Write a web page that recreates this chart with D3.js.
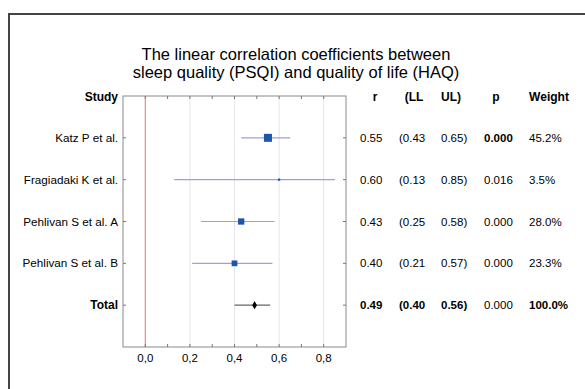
<!DOCTYPE html>
<html>
<head>
<meta charset="utf-8">
<script src="https://cdn.jsdelivr.net/npm/d3@7"></script>
<style>
  body { margin: 0; background: #fff; }
  svg text { font-family: "Liberation Sans", Arial, sans-serif; fill: #000; }
</style>
</head>
<body>
<div id="chart"></div>
<script>
// study rows
const studies = ["Katz P et al.", "Fragiadaki K et al.", "Pehlivan S et al. A", "Pehlivan S et al. B", "Total"];
const rValues = [0.55, 0.60, 0.43, 0.40, 0.49];
const lowerLimits = [0.43, 0.13, 0.25, 0.21, 0.40];
const upperLimits = [0.65, 0.85, 0.58, 0.57, 0.56];
const pValues = ["0.000", "0.016", "0.000", "0.000", "0.000"];
const weights = [45.2, 3.5, 28.0, 23.3, 100.0];
const xTicks = [0, 0.2, 0.4, 0.6, 0.8];

const width = 585, height = 389;

const svg = d3.select("#chart")
    .append("svg")
    .attr("width", width)
    .attr("height", height);

// outer frame (only top and left visible)
svg.append("line").attr("x1", 8).attr("x2", width).attr("y1", 14).attr("y2", 14)
    .attr("stroke", "#444").attr("stroke-width", 2);
svg.append("line").attr("x1", 9).attr("x2", 9).attr("y1", 13).attr("y2", height)
    .attr("stroke", "#444").attr("stroke-width", 2);

// title
svg.append("text")
    .attr("x", 296).attr("y", 60)
    .attr("text-anchor", "middle")
    .style("font-size", "16.5px")
    .text("The linear correlation coefficients between");
svg.append("text")
    .attr("x", 296).attr("y", 78)
    .attr("text-anchor", "middle")
    .style("font-size", "16.5px")
    .text("sleep quality (PSQI) and quality of life (HAQ)");

const x = d3.scaleLinear().domain([-0.1, 0.9]).range([123, 346]);
const y = d3.scaleLinear().domain([0, 6]).range([96, 347]);
const size = d3.scaleSqrt().domain([0, 45.2]).range([0, 8]);

// gridlines
svg.selectAll(".grid")
    .data(xTicks.filter(d => d > 0))
    .enter()
    .append("line")
    .attr("x1", d => x(d)).attr("x2", d => x(d))
    .attr("y1", y(0)).attr("y2", y(6))
    .attr("stroke", "#e6e6e6");

// zero line
svg.append("line")
    .attr("x1", x(0)).attr("x2", x(0))
    .attr("y1", y(0)).attr("y2", y(6))
    .attr("stroke", "#f08a8a").attr("stroke-width", 1.2);

// plot box
svg.append("rect")
    .attr("x", x(-0.1)).attr("y", y(0))
    .attr("width", x(0.9) - x(-0.1)).attr("height", y(6) - y(0))
    .attr("fill", "none").attr("stroke", "#8a8a8a");

// minor ticks top and bottom
const minor = d3.range(0, 9).map(i => i / 10);
svg.selectAll(".tickTop")
    .data(minor)
    .enter()
    .append("line")
    .attr("x1", d => x(d)).attr("x2", d => x(d))
    .attr("y1", y(0)).attr("y2", y(0) + 3)
    .attr("stroke", "#777");
svg.selectAll(".tickBottom")
    .data(minor)
    .enter()
    .append("line")
    .attr("x1", d => x(d)).attr("x2", d => x(d))
    .attr("y1", y(6)).attr("y2", y(6) - 3)
    .attr("stroke", "#777");

// row ticks left and right
svg.selectAll(".tickLeft")
    .data(studies)
    .enter()
    .append("line")
    .attr("x1", x(-0.1)).attr("x2", x(-0.1) + 3)
    .attr("y1", (d, i) => y(i + 1)).attr("y2", (d, i) => y(i + 1))
    .attr("stroke", "#777");
svg.selectAll(".tickRight")
    .data(studies)
    .enter()
    .append("line")
    .attr("x1", x(0.9)).attr("x2", x(0.9) - 3)
    .attr("y1", (d, i) => y(i + 1)).attr("y2", (d, i) => y(i + 1))
    .attr("stroke", "#777");

// x tick labels
svg.selectAll(".xlabel")
    .data(xTicks)
    .enter()
    .append("text")
    .attr("x", d => x(d)).attr("y", 362)
    .attr("text-anchor", "middle")
    .style("font-size", "11.5px")
    .text(d => d3.format(".1f")(d).replace(".", ","));

// confidence intervals
svg.selectAll(".ci")
    .data(studies)
    .enter()
    .append("line")
    .attr("x1", (d, i) => x(lowerLimits[i]))
    .attr("x2", (d, i) => x(upperLimits[i]))
    .attr("y1", (d, i) => y(i + 1)).attr("y2", (d, i) => y(i + 1))
    .attr("stroke", (d, i) => i === 4 ? "#666" : "#9aa2de")
    .attr("stroke-width", 1.2);

// study squares
svg.selectAll(".box")
    .data(studies.slice(0, 4))
    .enter()
    .append("rect")
    .attr("x", (d, i) => x(rValues[i]) - size(weights[i]) / 2)
    .attr("y", (d, i) => y(i + 1) - size(weights[i]) / 2)
    .attr("width", (d, i) => size(weights[i]))
    .attr("height", (d, i) => size(weights[i]))
    .attr("fill", "#1f55a8");

// pooled estimate
svg.append("path")
    .attr("d", d3.symbol().type(d3.symbolDiamond).size(20))
    .attr("transform", `translate(${x(rValues[4])},${y(5)})`)
    .attr("fill", "#000");

// study labels
svg.append("text")
    .attr("x", 118).attr("y", 101)
    .attr("text-anchor", "end")
    .style("font-size", "12px").style("font-weight", "bold")
    .text("Study");
svg.selectAll(".study")
    .data(studies)
    .enter()
    .append("text")
    .attr("x", 118).attr("y", (d, i) => y(i + 1) + 4)
    .attr("text-anchor", "end")
    .style("font-size", (d, i) => i === 4 ? "12px" : "11.7px")
    .style("font-weight", (d, i) => i === 4 ? "bold" : "normal")
    .text(d => d);

// table columns
const headers = [
    { text: "r", x: 375 },
    { text: "(LL", x: 414 },
    { text: "UL)", x: 451 },
    { text: "p", x: 496 },
    { text: "Weight", x: 549 }
];
svg.selectAll(".header")
    .data(headers)
    .enter()
    .append("text")
    .attr("x", d => d.x).attr("y", 101)
    .attr("text-anchor", "middle")
    .style("font-size", "12px").style("font-weight", "bold")
    .text(d => d.text);

const fmt = d3.format(".2f");
const columns = [
    { x: 360, text: i => fmt(rValues[i]), bold: i => i === 4 },
    { x: 399, text: i => "(" + fmt(lowerLimits[i]), bold: i => i === 4 },
    { x: 441, text: i => fmt(upperLimits[i]) + ")", bold: i => i === 4 },
    { x: 484, text: i => pValues[i], bold: i => i === 0 },
    { x: 529, text: i => weights[i].toFixed(1) + "%", bold: i => i === 4 }
];
columns.forEach(col => {
    svg.selectAll(null)
        .data(studies)
        .enter()
        .append("text")
        .attr("x", col.x).attr("y", (d, i) => y(i + 1) + 4)
        .style("font-size", "11.5px")
        .style("font-weight", (d, i) => col.bold(i) ? "bold" : "normal")
        .text((d, i) => col.text(i));
});
</script>
</body>
</html>
